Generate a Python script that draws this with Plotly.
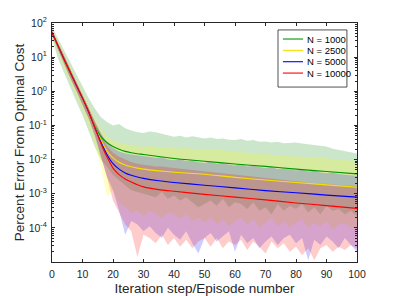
import plotly.graph_objects as go

# ---------------- data (log10 of percent error) ----------------
series_names = ["N = 1000", "N = 2500", "N = 5000", "N = 10000"]

# mean curves
mean_steps = [0, 2, 4, 6, 8, 10, 12, 14, 16, 18, 20, 22, 24, 26, 28, 30, 35, 40, 50, 60, 70, 80, 90, 100]
green_mean_log10 = [1.72, 1.33, 0.93, 0.55, 0.17, -0.2, -0.6, -1.02, -1.32, -1.5, -1.62, -1.7, -1.76, -1.8, -1.83, -1.85, -1.91, -1.97, -2.05, -2.13, -2.2, -2.28, -2.35, -2.42]
yellow_mean_log10 = [1.72, 1.33, 0.93, 0.55, 0.17, -0.2, -0.6, -1.04, -1.42, -1.75, -1.95, -2.08, -2.16, -2.21, -2.25, -2.28, -2.33, -2.37, -2.43, -2.52, -2.6, -2.67, -2.74, -2.81]
blue_mean_log10 = [1.72, 1.33, 0.93, 0.55, 0.17, -0.2, -0.6, -1.05, -1.48, -1.85, -2.12, -2.28, -2.39, -2.46, -2.51, -2.55, -2.62, -2.67, -2.75, -2.83, -2.91, -2.97, -3.04, -3.1]
red_mean_log10 = [1.72, 1.33, 0.93, 0.55, 0.17, -0.2, -0.6, -1.06, -1.52, -1.92, -2.25, -2.44, -2.57, -2.66, -2.74, -2.8, -2.88, -2.93, -3.02, -3.1, -3.18, -3.27, -3.35, -3.43]

# band bounds, every 2 steps from 0 to 100
band_steps = list(range(0, 101, 2))
green_upper_log10 = [1.88, 1.55, 1.2, 0.85, 0.5, 0.15, -0.2, -0.5, -0.75, -0.9, -1.0, -0.96, -1.08, -1.15, -1.2, -1.22, -1.18, -1.2, -1.25, -1.3, -1.33, -1.3, -1.35, -1.32, -1.36, -1.38, -1.35, -1.4, -1.38, -1.42, -1.43, -1.4, -1.45, -1.43, -1.48, -1.47, -1.5, -1.48, -1.52, -1.5, -1.5, -1.53, -1.55, -1.58, -1.6, -1.62, -1.68, -1.72, -1.75, -1.8, -1.82]
green_lower_log10 = [1.55, 0.95, 0.5, 0.1, -0.3, -0.7, -1.15, -1.62, -2.0, -2.2, -2.45, -2.6, -2.75, -2.9, -2.95, -3.0, -3.05, -3.1, -2.95, -3.15, -3.05, -3.2, -3.1, -3.25, -3.4, -3.3, -3.2, -3.35, -3.15, -3.4, -3.25, -3.3, -3.45, -3.25, -3.5, -3.4, -3.6, -3.3, -3.5, -3.35, -3.45, -3.3, -3.55, -3.4, -3.6, -3.35, -3.5, -3.45, -3.6, -3.5, -3.65]
yellow_upper_log10 = [1.82, 1.47, 1.1, 0.72, 0.36, 0.0, -0.38, -0.78, -1.1, -1.3, -1.45, -1.5, -1.55, -1.58, -1.6, -1.63, -1.6, -1.62, -1.65, -1.63, -1.66, -1.68, -1.65, -1.7, -1.68, -1.7, -1.72, -1.7, -1.73, -1.75, -1.74, -1.78, -1.8, -1.82, -1.83, -1.85, -1.86, -1.85, -1.88, -1.9, -1.9, -1.92, -1.93, -1.95, -1.94, -1.97, -1.98, -2.0, -2.02, -2.03, -2.05]
yellow_lower_log10 = [1.6, 1.12, 0.66, 0.26, -0.14, -0.55, -1.0, -1.55, -2.2, -3.1, -2.9, -3.25, -3.4, -3.55, -3.5, -3.65, -3.5, -3.6, -3.7, -3.55, -3.6, -3.75, -3.6, -3.8, -3.7, -3.85, -3.7, -3.9, -3.75, -3.95, -3.8, -3.7, -3.9, -3.75, -4.0, -3.85, -3.7, -3.95, -3.8, -4.0, -3.85, -3.75, -4.0, -3.85, -3.95, -3.8, -4.05, -3.9, -3.85, -4.0, -3.95]
blue_upper_log10 = [1.78, 1.42, 1.03, 0.65, 0.28, -0.08, -0.48, -0.88, -1.22, -1.5, -1.66, -1.76, -1.82, -1.85, -1.88, -1.9, -1.92, -1.95, -1.93, -2.0, -2.02, -1.98, -2.05, -2.03, -2.08, -2.1, -2.06, -2.12, -2.1, -2.15, -2.17, -2.13, -2.2, -2.18, -2.22, -2.25, -2.22, -2.28, -2.26, -2.3, -2.32, -2.3, -2.35, -2.33, -2.38, -2.4, -2.38, -2.42, -2.43, -2.46, -2.48]
blue_lower_log10 = [1.65, 1.2, 0.78, 0.38, 0.0, -0.38, -0.8, -1.3, -1.9, -2.5, -2.9, -3.5, -4.2, -3.8, -3.9, -4.1, -3.95, -4.15, -4.3, -4.0, -4.2, -4.35, -4.1, -4.45, -4.75, -4.3, -4.15, -4.4, -4.25, -4.1, -4.7, -4.2, -4.45, -4.3, -4.6, -4.4, -4.25, -4.5, -4.3, -4.2, -4.45, -4.3, -4.95, -4.35, -4.5, -4.25, -4.4, -4.6, -4.3, -4.5, -4.7]
red_upper_log10 = [1.8, 1.42, 1.02, 0.64, 0.26, -0.1, -0.5, -0.9, -1.25, -1.6, -1.8, -1.92, -2.0, -2.07, -2.12, -2.15, -2.17, -2.2, -2.2, -2.23, -2.25, -2.27, -2.28, -2.3, -2.32, -2.35, -2.36, -2.38, -2.4, -2.42, -2.44, -2.45, -2.47, -2.5, -2.52, -2.55, -2.56, -2.58, -2.6, -2.62, -2.64, -2.65, -2.67, -2.69, -2.7, -2.72, -2.73, -2.75, -2.76, -2.77, -2.78]
red_lower_log10 = [1.64, 1.2, 0.8, 0.4, 0.02, -0.36, -0.78, -1.25, -1.85, -2.5, -3.2, -3.55, -3.9, -4.1, -4.85, -4.2, -4.3, -4.45, -4.2, -4.5, -4.3, -4.55, -4.35, -4.6, -4.4, -4.3, -4.55, -4.3, -4.6, -4.4, -4.5, -4.35, -4.65, -4.4, -4.55, -4.75, -4.4, -4.6, -4.45, -4.7, -4.55, -4.8, -4.6, -4.95, -4.6, -4.5, -4.7, -4.55, -4.65, -4.5, -4.6]

x_tick_values = [0, 10, 20, 30, 40, 50, 60, 70, 80, 90, 100]
y_tick_values = [1e-4, 1e-3, 1e-2, 1e-1, 1e0, 1e1, 1e2]
y_tick_labels = ["10<sup>-4</sup>", "10<sup>-3</sup>", "10<sup>-2</sup>", "10<sup>-1</sup>",
                 "10<sup>0</sup>", "10<sup>1</sup>", "10<sup>2</sup>"]

# ---------------- styling ----------------
line_colors = ["rgb(0,150,0)", "rgb(245,225,0)", "rgb(0,0,255)", "rgb(255,0,0)"]
fill_colors = ["rgba(0,128,0,0.2)", "rgba(255,255,0,0.22)", "rgba(0,0,255,0.2)", "rgba(255,0,0,0.2)"]

means = [green_mean_log10, yellow_mean_log10, blue_mean_log10, red_mean_log10]
uppers = [green_upper_log10, yellow_upper_log10, blue_upper_log10, red_upper_log10]
lowers = [green_lower_log10, yellow_lower_log10, blue_lower_log10, red_lower_log10]

fig = go.Figure()

for up, lo, fc in zip(uppers, lowers, fill_colors):
    fig.add_trace(go.Scatter(
        x=band_steps + band_steps[::-1],
        y=[10 ** v for v in up] + [10 ** v for v in lo[::-1]],
        fill="toself", fillcolor=fc, mode="lines", line=dict(width=0),
        showlegend=False, hoverinfo="skip"))

for name, m, lc in zip(series_names, means, line_colors):
    fig.add_trace(go.Scatter(
        x=mean_steps, y=[10 ** v for v in m], mode="lines", name=name,
        showlegend=False,
        line=dict(color=lc, width=1.1, shape="spline", smoothing=0.6)))

font_family = "Liberation Sans, Arial, Helvetica, sans-serif"
axis_color = "#262626"

# ---- compact legend box (MATLAB style), drawn in paper coordinates ----
legend_left, legend_right = 0.741, 0.967
legend_top, legend_bottom = 0.971, 0.732
row_y0, row_dy = 0.933, 0.0475
sample_x0, sample_x1, text_x = 0.757, 0.823, 0.830

shapes = [dict(type="rect", xref="paper", yref="paper",
               x0=legend_left, x1=legend_right, y0=legend_bottom, y1=legend_top,
               line=dict(color="#262626", width=0.8), fillcolor="white", layer="above")]
annotations = []
for i, (name, lc) in enumerate(zip(series_names, line_colors)):
    yy = row_y0 - i * row_dy
    shapes.append(dict(type="line", xref="paper", yref="paper",
                       x0=sample_x0, x1=sample_x1, y0=yy, y1=yy,
                       line=dict(color=lc, width=1.1), layer="above"))
    annotations.append(dict(xref="paper", yref="paper", x=text_x, y=yy,
                            xanchor="left", yanchor="middle", showarrow=False,
                            text=name, font=dict(size=9.5, color="black", family=font_family)))

minor_vals = [k * 10 ** e for e in range(-5, 2) for k in range(2, 10)]

fig.update_layout(
    width=395, height=296,
    margin=dict(l=52, r=38, t=23, b=34),
    paper_bgcolor="white", plot_bgcolor="white",
    font=dict(family=font_family, color=axis_color, size=11),
    showlegend=False,
    shapes=shapes, annotations=annotations,
    xaxis=dict(
        range=[0, 100], tickmode="array", tickvals=x_tick_values,
        ticks="inside", ticklen=3, tickcolor=axis_color,
        showline=True, linecolor=axis_color, linewidth=1, mirror="ticks",
        showgrid=False, zeroline=False, automargin=False,
        tickfont=dict(size=10.5), ticklabelstandoff=2,
        title=dict(text="Iteration step/Episode number", font=dict(size=13.5), standoff=4),
    ),
    yaxis=dict(
        type="log", range=[-5, 2], tickmode="array",
        tickvals=y_tick_values, ticktext=y_tick_labels,
        ticks="inside", ticklen=3, tickcolor=axis_color,
        showline=True, linecolor=axis_color, linewidth=1, mirror="ticks",
        showgrid=False, zeroline=False, automargin=False,
        tickfont=dict(size=10.5), ticklabelstandoff=2,
        minor=dict(tickmode="array", tickvals=minor_vals, ticks="inside", ticklen=2,
                   tickcolor=axis_color, showgrid=False),
        title=dict(text="Percent Error From Optimal Cost", font=dict(size=13.5), standoff=0),
    ),
)

fig.write_html("out.html", post_script="document.body.style.margin='0';",
               config={"displayModeBar": False})
